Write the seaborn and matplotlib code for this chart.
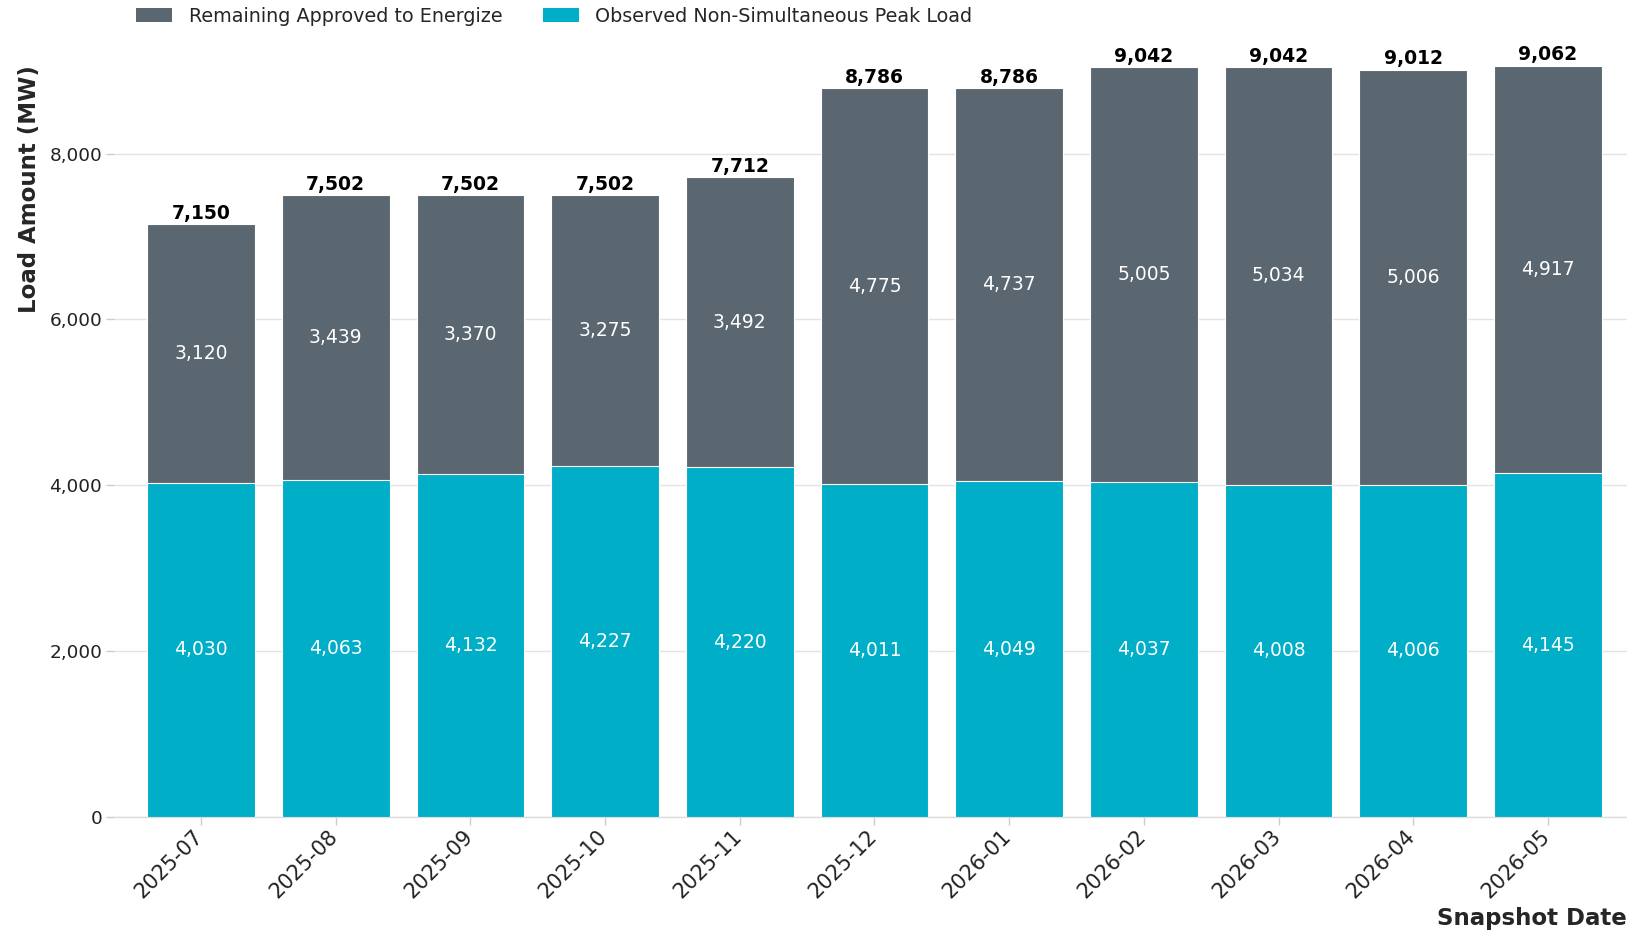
import matplotlib
matplotlib.use("Agg")
import matplotlib.pyplot as plt
import matplotlib.transforms as mtransforms
import seaborn as sns
import pandas as pd
from matplotlib.patches import Patch
from matplotlib.ticker import FuncFormatter, MultipleLocator

snapshot_dates = ["2025-07", "2025-08", "2025-09", "2025-10", "2025-11", "2025-12",
                  "2026-01", "2026-02", "2026-03", "2026-04", "2026-05"]
observed_peak = [4030, 4063, 4132, 4227, 4220, 4011, 4049, 4037, 4008, 4006, 4145]
remaining_approved = [3120, 3439, 3370, 3275, 3492, 4775, 4737, 5005, 5034, 5006, 4917]
totals = [7150, 7502, 7502, 7502, 7712, 8786, 8786, 9042, 9042, 9012, 9062]

DARK = "#5b6770"
CYAN = "#00aec7"

df = pd.DataFrame({
    "date": snapshot_dates,
    "observed": observed_peak,
    "remaining": remaining_approved,
    "total": totals,
})

sns.set_theme(style="white")
plt.rcParams["font.family"] = ["DejaVu Sans"]

fig = plt.figure(figsize=(16.27, 9.33), dpi=100)
W, H = 1627, 933
ymax = 9070
ax_left, ax_right = 114, 1636
ax_bottom = 817
ax_top = ax_bottom - ymax * (817 - 153.6) / 8000
ax = fig.add_axes([ax_left / W, 1 - ax_bottom / H,
                   (ax_right - ax_left) / W, (ax_bottom - ax_top) / H])

# full stack height first, observed load drawn over its lower part
sns.barplot(data=df, x="date", y="total", color=DARK, saturation=1, width=0.8,
            edgecolor="white", linewidth=0.8, ax=ax, zorder=2)
sns.barplot(data=df, x="date", y="observed", color=CYAN, saturation=1, width=0.8,
            edgecolor="white", linewidth=0.8, ax=ax, zorder=3)

ax.set_xlim(-0.646, 10.654)
ax.set_ylim(0, ymax)
ax.yaxis.set_major_locator(MultipleLocator(2000))
ax.yaxis.set_major_formatter(FuncFormatter(lambda v, p: f"{int(v):,}"))

ax.grid(axis="y", color="#e3e3e3", linewidth=1, zorder=0)
ax.set_axisbelow(True)
for side in ["left", "right", "top"]:
    ax.spines[side].set_visible(False)
ax.spines["bottom"].set_color("#dddddd")
ax.spines["bottom"].set_linewidth(1)
ax.tick_params(axis="both", which="major", length=6, width=1, color="#cccccc",
               labelcolor="#222222")
ax.tick_params(axis="y", left=True, labelsize=13.3, pad=2.5)
ax.tick_params(axis="x", bottom=True, labelsize=15, pad=4)
shift = mtransforms.ScaledTranslation(-8 / 100, 5 / 100, fig.dpi_scale_trans)
for lbl in ax.get_xticklabels():
    lbl.set_rotation(45)
    lbl.set_ha("right")
    lbl.set_rotation_mode("anchor")
    lbl.set_transform(lbl.get_transform() + shift)

for i, (o, r, t) in enumerate(zip(observed_peak, remaining_approved, totals)):
    ax.text(i, o / 2, f"{o:,}", ha="center", va="center", color="white",
            fontsize=13.5, zorder=5, clip_on=False)
    ax.text(i, o + r / 2, f"{r:,}", ha="center", va="center", color="white",
            fontsize=13.5, zorder=5, clip_on=False)
    ax.text(i, t + 15, f"{t:,}", ha="center", va="bottom", color="black",
            fontsize=13.5, fontweight="bold", zorder=5, clip_on=False)

ax.set_ylabel("Load Amount (MW)", fontsize=16.5, fontweight="bold", loc="top")
ax.yaxis.set_label_coords(-0.048, 1.0)
ax.set_xlabel("")
fig.text(1627 / W, 1 - 918 / H, "Snapshot Date", ha="right", va="center",
         fontsize=16.5, fontweight="bold")

handles = [Patch(facecolor=DARK, edgecolor="none", label="Remaining Approved to Energize"),
           Patch(facecolor=CYAN, edgecolor="none", label="Observed Non-Simultaneous Peak Load"),
           ]
fig.legend(handles=handles, loc="center left", bbox_to_anchor=(136 / W, 1 - 16 / H),
           ncol=2, frameon=False, fontsize=13.8, handlelength=1.9, handleheight=0.8,
           columnspacing=2.1, handletextpad=0.85, borderaxespad=0, borderpad=0)

fig.savefig("out.png", dpi=100)
